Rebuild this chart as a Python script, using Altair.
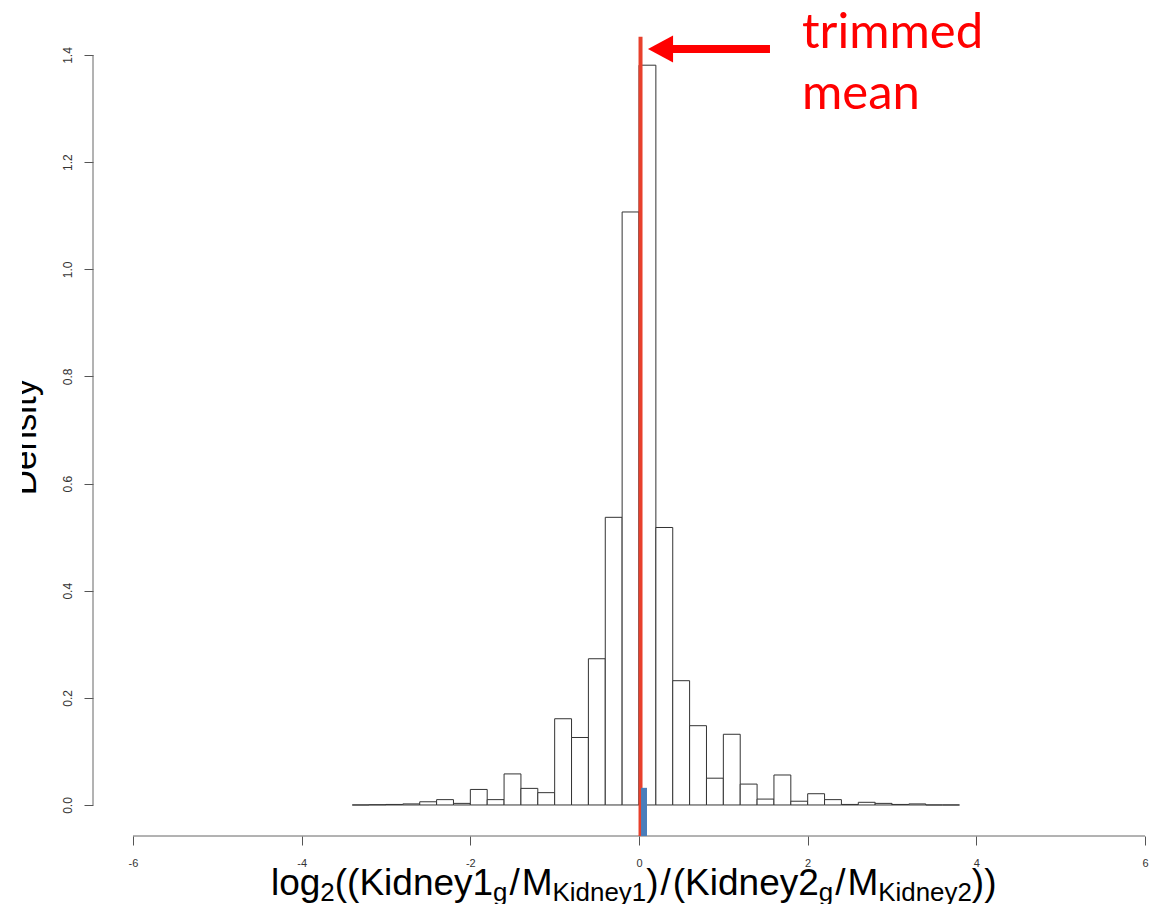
import altair as alt
import pandas as pd

# ---------------- data ----------------
bin_first = -3.4
bin_width = 0.2
density = [0.0, 0.0005, 0.001, 0.002, 0.006, 0.010, 0.003, 0.029, 0.010, 0.058,
           0.031, 0.023, 0.161, 0.126, 0.273, 0.537, 1.107, 1.381, 0.518, 0.232,
           0.148, 0.050, 0.132, 0.039, 0.011, 0.056, 0.007, 0.021, 0.010, 0.001,
           0.005, 0.003, 0.001, 0.002, 0.0, 0.0]
x_ticks = [-6, -4, -2, 0, 2, 4, 6]
y_ticks = [0.0, 0.2, 0.4, 0.6, 0.8, 1.0, 1.2, 1.4]
trimmed_mean = 0.018
mean_line_top = 1.434
rug_lo, rug_hi, rug_top = 0.024, 0.095, 0.032
arrow_y = 1.411
arrow_tail, arrow_head_x, arrow_shaft_start = 1.553, 0.255, 0.37
label_x = 1.933
label_lines = ["trimmed", "mean"]
label_y = [1.413, 1.300]

# ---------------- layout ----------------
X_DOM = [-6.474, 6.130]
Y_DOM = [-0.0579, 1.5027]
W, H = 1063, 836
PAD_L = 93
RFONT = "Liberation Sans"

lo = [round(bin_first + bin_width * i, 2) for i in range(len(density))]
hi = [round(v + bin_width, 2) for v in lo]
hist = pd.DataFrame({"lo": lo, "hi": hi, "d": density, "z": [0.0] * len(density)})

xs = alt.Scale(domain=X_DOM, nice=False, zero=False)
ys = alt.Scale(domain=Y_DOM, nice=False, zero=False)

x_axis = alt.Axis(
    values=x_ticks, domain=False, grid=False, tickSize=9, tickColor="#555555",
    labelFont=RFONT, labelFontSize=11, labelColor="#333333", labelPadding=12,
    labelFlush=False, labelOverlap=False, labelExpr="'' + datum.value", title=None)
y_axis = alt.Axis(
    values=y_ticks, domain=False, grid=False, tickSize=9, tickColor="#555555",
    labelFont=RFONT, labelFontSize=12, labelColor="#333333", labelPadding=10,
    labelAngle=270, labelAlign="center", labelBaseline="bottom", format=".1f",
    labelOverlap=False, labelFlush=False, title=None)


def X(f):
    return alt.X(f, type="quantitative", scale=xs, axis=x_axis, title=None)


def Y(f):
    return alt.Y(f, type="quantitative", scale=ys, axis=y_axis, title=None)


bars = alt.Chart(hist).mark_rect(fill="white", stroke="#333333", strokeWidth=1).encode(
    x=X("lo"), x2="hi:Q", y=Y("d"), y2="z:Q")

y_axis_line = alt.Chart(pd.DataFrame({"x": [X_DOM[0]], "a": [y_ticks[0]], "b": [y_ticks[-1]]})).mark_rule(
    color="#666666", strokeWidth=1).encode(x=X("x"), y=Y("a"), y2="b:Q")
x_axis_line = alt.Chart(pd.DataFrame({"a": [x_ticks[0]], "b": [x_ticks[-1]], "y": [Y_DOM[0]]})).mark_rule(
    color="#666666", strokeWidth=1).encode(x=X("a"), x2="b:Q", y=Y("y"))

mean_line = alt.Chart(pd.DataFrame({"x": [trimmed_mean], "a": [Y_DOM[0]], "b": [mean_line_top]})).mark_rule(
    color="#e8402c", strokeWidth=4).encode(x=X("x"), y=Y("a"), y2="b:Q")
rug = alt.Chart(pd.DataFrame({"a": [rug_lo], "b": [rug_hi], "c": [Y_DOM[0]], "d": [rug_top]})).mark_rect(
    color="#4a7ebb").encode(x=X("a"), x2="b:Q", y=Y("c"), y2="d:Q")

shaft = alt.Chart(pd.DataFrame({"a": [arrow_shaft_start], "b": [arrow_tail], "y": [arrow_y]})).mark_rule(
    color="#ff0000", strokeWidth=8).encode(x=X("a"), x2="b:Q", y=Y("y"))
head = alt.Chart(pd.DataFrame({"x": [arrow_head_x], "y": [arrow_y]})).mark_point(
    shape="M -0.93 0 L 0.93 -1 L 0.93 1 Z", size=729, filled=True, color="#ff0000", opacity=1,
    strokeWidth=0).encode(x=X("x"), y=Y("y"))
label = alt.Chart(pd.DataFrame({"x": [label_x] * 2, "y": label_y, "t": label_lines})).mark_text(
    font="Lato", fontSize=49, color="#ff0000", align="left", baseline="alphabetic").encode(
    x=X("x"), y=Y("y"), text="t:N")

# y title, partially covered on the left as in the picture
ytitle = alt.Chart(pd.DataFrame({"t": ["Density"]})).mark_text(
    font=RFONT, fontSize=35, angle=270, align="center", baseline="alphabetic", color="#000000").encode(
    x=alt.value(36 - PAD_L), y=alt.value(437), text="t:N")
cover = alt.Chart(pd.DataFrame({"k": [0]})).mark_rect(color="white").encode(
    x=alt.value(-PAD_L), x2=alt.value(22 - PAD_L), y=alt.value(330), y2=alt.value(540))

# x title built from pieces (main text + subscripts)
ADV = {"l": 222, "o": 556, "g": 556, "2": 556, "1": 556, "(": 333, ")": 333, "K": 667,
       "i": 222, "d": 556, "n": 556, "e": 556, "y": 500, "/": 278, "M": 833}
S_MAIN, S_SUB = 37, 25.9
GAP = 2.0
# (text, is_subscript, extra gap before)
pieces = [("log", 0, 0), ("2", 1, 0), ("((Kidney1", 0, 0), ("g", 1, 0), ("/", 0, GAP), ("M", 0, GAP),
          ("Kidney1", 1, 0), (")", 0, 0), ("/", 0, GAP), ("(Kidney2", 0, GAP), ("g", 1, 0),
          ("/", 0, GAP), ("M", 0, GAP), ("Kidney2", 1, 0), ("))", 0, 0)]
x_cursor = 271.0
BASE = 895
title_layers = []
for txt, sub, gap in pieces:
    fs = S_SUB if sub else S_MAIN
    x_cursor += gap
    title_layers.append(
        alt.Chart(pd.DataFrame({"t": [txt]})).mark_text(
            font=RFONT, fontSize=fs, align="left", baseline="alphabetic", color="#000000").encode(
            x=alt.value(x_cursor - PAD_L), y=alt.value(BASE + (6 if sub else 0)), text="t:N"))
    x_cursor += sum(ADV[c] for c in txt) / 1000.0 * fs

chart = alt.layer(
    bars, y_axis_line, x_axis_line, mean_line, rug, shaft, head, label, ytitle, cover, *title_layers
).properties(
    width=W, height=H,
    padding={"left": PAD_L, "top": 0, "right": 0, "bottom": 68},
    autosize=alt.AutoSizeParams(type="none"),
    background="white",
).configure_view(stroke=None)

chart.save("out.html", embed_options={"renderer": "svg", "actions": False})
